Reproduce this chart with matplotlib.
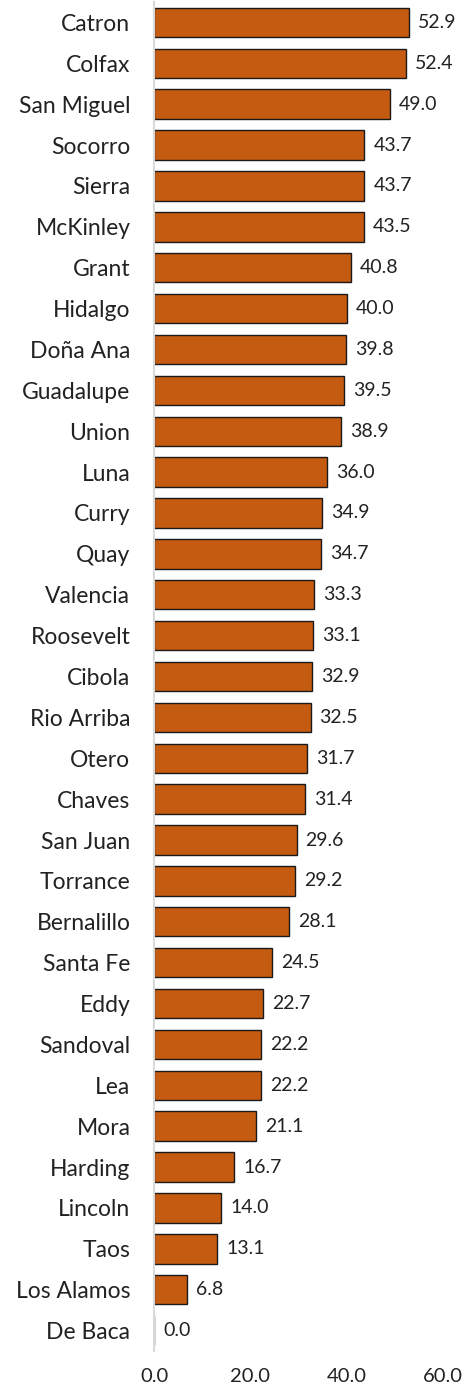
import matplotlib.pyplot as plt

counties = ['Catron', 'Colfax', 'San Miguel', 'Socorro', 'Sierra', 'McKinley',
            'Grant', 'Hidalgo', 'Doña Ana', 'Guadalupe', 'Union', 'Luna', 'Curry',
            'Quay', 'Valencia', 'Roosevelt', 'Cibola', 'Rio Arriba', 'Otero',
            'Chaves', 'San Juan', 'Torrance', 'Bernalillo', 'Santa Fe', 'Eddy',
            'Sandoval', 'Lea', 'Mora', 'Harding', 'Lincoln', 'Taos', 'Los Alamos',
            'De Baca']
values = [52.9, 52.4, 49.0, 43.7, 43.7, 43.5, 40.8, 40.0, 39.8, 39.5, 38.9,
          36.0, 34.9, 34.7, 33.3, 33.1, 32.9, 32.5, 31.7, 31.4, 29.6, 29.2,
          28.1, 24.5, 22.7, 22.2, 22.2, 21.1, 16.7, 14.0, 13.1, 6.8, 0.0]
xticks = [0, 20, 40, 60]

plt.rcParams['font.family'] = ['Lato', 'DejaVu Sans']

fig = plt.figure(figsize=(4.65, 13.9), dpi=100)
ax = fig.add_axes([154 / 465, 1 - 1351 / 1390, 289 / 465, 1349 / 1390])

pos = list(range(len(counties)))
ax.barh(pos, values, height=0.72, color='#C55A11', edgecolor='#1a1a1a', linewidth=1)
for p, v in zip(pos, values):
    ax.annotate(f'{v:.1f}', (v, p), xytext=(6.5, 0), textcoords='offset points',
                va='center', ha='left', fontsize=14, color='#222222')

ax.set_ylim(len(counties) - 0.5, -0.5)
ax.set_xlim(0, 60)
ax.set_yticks(pos)
ax.set_yticklabels(counties, fontsize=16.5, color='#222222')
ax.set_xticks(xticks)
ax.set_xticklabels([f'{t:.1f}' for t in xticks], fontsize=14.5, color='#222222')
ax.tick_params(axis='both', length=0)
ax.tick_params(axis='y', pad=17)
ax.tick_params(axis='x', pad=12)
for s in ['top', 'right', 'bottom']:
    ax.spines[s].set_visible(False)
ax.spines['left'].set_color('#d9d9d9')
ax.spines['left'].set_linewidth(1.5)

fig.savefig('out.png', dpi=100)
